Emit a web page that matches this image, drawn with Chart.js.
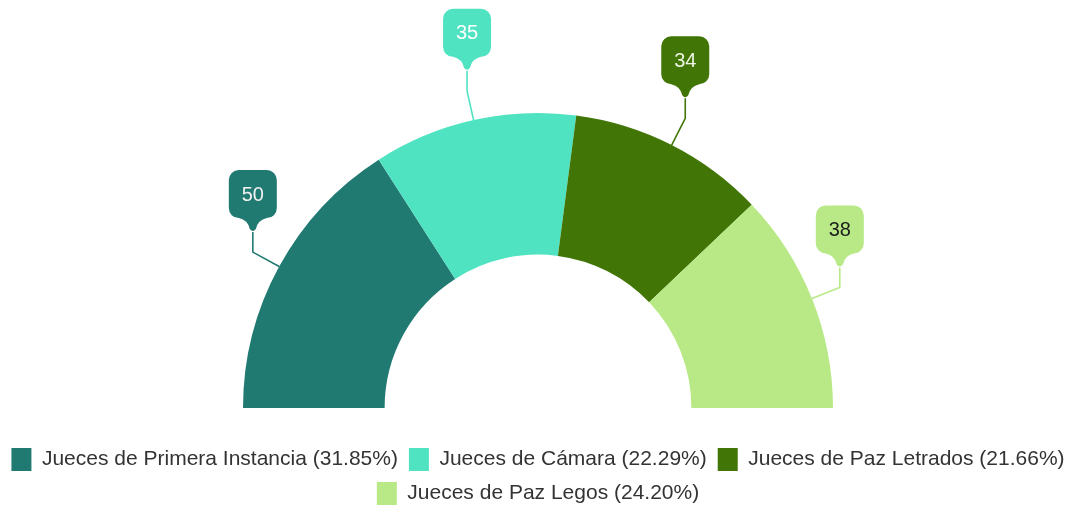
<!DOCTYPE html>
<html>
<head>
<meta charset="utf-8">
<script src="https://cdn.jsdelivr.net/npm/chart.js@4/dist/chart.umd.min.js"></script>
<style>
  html, body { margin: 0; padding: 0; background: #fff; }
  #wrap { width: 1082px; height: 508px; }
</style>
</head>
<body>
<div id="wrap"><canvas id="jueces"></canvas></div>
<script>
const categories = ['Jueces de Primera Instancia', 'Jueces de Cámara', 'Jueces de Paz Letrados', 'Jueces de Paz Legos'];
const counts = [50, 35, 34, 38];
const colors = ['#217a72', '#50e3c2', '#417505', '#b8e986'];
const labelTextColors = ['#f2f2f2', '#ffffff', '#eef6e4', '#1c1c1c'];

const total = counts.reduce((a, b) => a + b, 0);

// callout boxes with a little pointer, tied to the arc by an elbow line
const calloutPlugin = {
  id: 'callouts',
  afterDatasetsDraw(chart) {
    const ctx = chart.ctx;
    const meta = chart.getDatasetMeta(0);
    meta.data.forEach((arc, i) => {
      const p = arc.getProps(['x', 'y', 'startAngle', 'endAngle', 'outerRadius'], true);
      const mid = (p.startAngle + p.endAngle) / 2;
      const cos = Math.cos(mid), sin = Math.sin(mid);
      const ex = p.x + cos * p.outerRadius, ey = p.y + sin * p.outerRadius;
      const bx = p.x + cos * (p.outerRadius + 30), by = p.y + sin * (p.outerRadius + 30);
      const tip = by - 20;
      const w = 48, h = 48, r = 10, ptr = 14;
      const bottom = tip - ptr, top = bottom - h;
      const left = bx - w / 2, right = bx + w / 2;

      ctx.save();
      ctx.strokeStyle = colors[i];
      ctx.lineWidth = 1.6;
      ctx.beginPath();
      ctx.moveTo(ex, ey);
      ctx.lineTo(bx, by);
      ctx.lineTo(bx, tip);
      ctx.stroke();

      ctx.fillStyle = colors[i];
      ctx.beginPath();
      ctx.moveTo(left + r, top);
      ctx.lineTo(right - r, top);
      ctx.arcTo(right, top, right, top + r, r);
      ctx.lineTo(right, bottom - r);
      ctx.arcTo(right, bottom, right - r, bottom, r);
      ctx.lineTo(bx + 14, bottom);
      ctx.quadraticCurveTo(bx + 5, bottom + 2, bx + 3, tip - 3);
      ctx.quadraticCurveTo(bx, tip + 1, bx - 3, tip - 3);
      ctx.quadraticCurveTo(bx - 5, bottom + 2, bx - 14, bottom);
      ctx.lineTo(left + r, bottom);
      ctx.arcTo(left, bottom, left, bottom - r, r);
      ctx.lineTo(left, top + r);
      ctx.arcTo(left, top, left + r, top, r);
      ctx.closePath();
      ctx.fill();

      ctx.fillStyle = labelTextColors[i];
      ctx.font = '20px "Liberation Sans", Arial, sans-serif';
      ctx.textAlign = 'center';
      ctx.textBaseline = 'middle';
      ctx.fillText(String(counts[i]), bx, top + h / 2 + 1);
      ctx.restore();
    });
  }
};

new Chart(document.getElementById('jueces'), {
  type: 'doughnut',
  data: {
    labels: categories,
    datasets: [{
      data: counts,
      backgroundColor: colors,
      borderWidth: 0,
      hoverOffset: 0,
      clip: false
    }]
  },
  options: {
    responsive: true,
    maintainAspectRatio: false,
    animation: false,
    rotation: -90,
    circumference: 180,
    radius: 295,
    cutout: '52%',
    layout: {
      padding: { top: 84, left: 0, right: 6, bottom: -7 }
    },
    plugins: {
      tooltip: { enabled: false },
      legend: {
        position: 'bottom',
        labels: {
          font: { family: '"Liberation Sans", Arial, sans-serif', size: 21 },
          color: '#333333',
          boxWidth: 20,
          boxHeight: 23,
          padding: 11,
          generateLabels(chart) {
            return categories.map((c, i) => ({
              text: c + ' (' + (counts[i] / total * 100).toFixed(2) + '%)',
              fillStyle: colors[i],
              strokeStyle: colors[i],
              lineWidth: 0,
              fontColor: '#333333',
              index: i
            }));
          }
        }
      }
    }
  },
  plugins: [calloutPlugin]
});
</script>
</body>
</html>
